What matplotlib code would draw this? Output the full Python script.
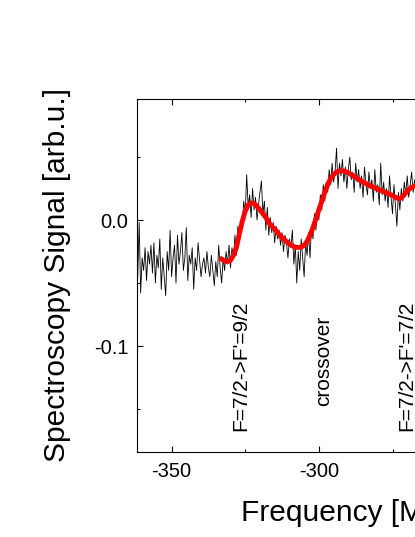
import numpy as np
import matplotlib
matplotlib.use("Agg")
import matplotlib.pyplot as plt
from matplotlib.ticker import MultipleLocator

plt.rcParams['font.family'] = ['Liberation Sans', 'DejaVu Sans']
plt.rcParams['axes.unicode_minus'] = False

# measured spectroscopy trace, 0.5 MHz steps starting at -362 MHz
f_start, f_step = -362.0, 0.5
signal = [
    -0.030, -0.045, -0.002, -0.058, -0.030, -0.040, -0.022, -0.048, -0.025, -0.035,
    -0.020, -0.042, -0.018, -0.050, -0.028, -0.038, -0.015, -0.055, -0.030, -0.045,
    -0.060, -0.025, -0.040, -0.008, -0.045, -0.030, -0.020, -0.050, -0.012, -0.035,
    -0.025, -0.010, -0.040, -0.030, -0.006, -0.048, -0.028, -0.035, -0.022, -0.055,
    -0.030, -0.040, -0.018, -0.032, -0.045, -0.035, -0.030, -0.042, -0.025, -0.038,
    -0.045, -0.028, -0.040, -0.052, -0.033, -0.045, -0.020, -0.038, -0.050, -0.030,
    -0.040, -0.025, -0.035, -0.020, -0.038, -0.022, -0.030, -0.012, -0.028, -0.005,
    -0.015, 0.000, -0.005, 0.015, 0.005, 0.036, 0.010, 0.020, 0.002, 0.025,
    0.008, 0.018, 0.000, 0.012, 0.022, 0.031, 0.005, 0.015, -0.008, 0.010,
    -0.012, 0.002, -0.010, -0.002, -0.018, -0.005, -0.015, -0.008, -0.020, -0.010,
    -0.025, -0.012, -0.018, -0.030, -0.015, -0.022, -0.008, -0.035, -0.020, -0.050,
    -0.025, -0.040, -0.015, -0.030, -0.045, -0.018, -0.028, -0.010, -0.030, -0.005,
    -0.015, 0.005, -0.008, 0.010, 0.000, 0.020, 0.008, 0.028, 0.015, 0.030,
    0.022, 0.040, 0.028, 0.045, 0.030, 0.038, 0.057, 0.025, 0.045, 0.035,
    0.048, 0.030, 0.042, 0.025, 0.040, 0.050, 0.032, 0.038, 0.022, 0.045,
    0.030, 0.040, 0.025, 0.035, 0.018, 0.042, 0.028, 0.020, 0.038, 0.025,
    0.032, 0.015, 0.040, 0.022, 0.028, 0.012, 0.045, 0.020, 0.030, 0.015,
    0.025, 0.010, 0.035, 0.018, 0.005, 0.028, 0.012, -0.005, 0.022, 0.008,
    0.025, 0.015, 0.030, 0.020, 0.035, 0.018, 0.028, 0.038, 0.022, 0.032,
    0.025, 0.030, 0.028,
]
freq = f_start + f_step * np.arange(len(signal))

# fitted curve, 1 MHz steps starting at -333 MHz
fit_start = -333.0
fit = [
    -0.031, -0.0325, -0.033, -0.032, -0.028, -0.022, -0.011, -0.001, 0.007, 0.012,
    0.0135, 0.013, 0.011, 0.008, 0.005, 0.002, -0.002, -0.005, -0.007, -0.010,
    -0.013, -0.015, -0.017, -0.019, -0.0205, -0.0215, -0.0218, -0.0215, -0.020, -0.017,
    -0.012, -0.006, 0.001, 0.008, 0.015, 0.022, 0.028, 0.033, 0.036, 0.038,
    0.039, 0.039, 0.0385, 0.0375, 0.036, 0.0345, 0.033, 0.0315, 0.030, 0.029,
    0.0275, 0.0265, 0.0255, 0.0245, 0.0235, 0.0225, 0.0215, 0.0205, 0.0195, 0.018,
    0.017, 0.0175, 0.020, 0.023, 0.025, 0.0265, 0.027, 0.028,
]
fit_freq = fit_start + np.arange(len(fit))

labels = ["F=7/2->F'=9/2", "crossover", "F=7/2->F'=7/2"]
label_x = [-326.6, -298.3, -270.0]
label_y = [-0.116, -0.112, -0.116]

fig = plt.figure(figsize=(4.15, 5.37), dpi=100)
ax = fig.add_axes([0.329, 0.1583, 1.054, 0.6574])

ax.plot(freq, signal, color='black', lw=0.6)
ax.plot(fit_freq, fit, color='red', lw=3.5)

for lab, x, y in zip(labels, label_x, label_y):
    ax.text(x, y, lab, rotation=90, ha='center', va='center', fontsize=15)

ax.set_xlim(-361.9, -213.4)
ax.set_ylim(-0.184, 0.096)
ax.xaxis.set_major_locator(MultipleLocator(50))
ax.xaxis.set_minor_locator(MultipleLocator(25))
ax.yaxis.set_major_locator(MultipleLocator(0.1))
ax.yaxis.set_minor_locator(MultipleLocator(0.05))
ax.yaxis.set_major_formatter(lambda v, p: f"{v:.1f}")
ax.tick_params(which='both', direction='in', top=True, right=True, width=0.8)
ax.tick_params(which='major', length=4.5, labelsize=14.5)
ax.tick_params(axis='x', which='major', pad=7)
ax.tick_params(axis='y', which='major', pad=6)
ax.tick_params(which='minor', length=2.5)
for s in ax.spines.values():
    s.set_linewidth(0.8)

ax.set_xlabel('Frequency [MHz]', fontsize=21.5, labelpad=13)
ax.set_ylabel('Spectroscopy Signal [arb.u.]', fontsize=21.5, labelpad=16.5)

fig.savefig('out.png', dpi=100)
